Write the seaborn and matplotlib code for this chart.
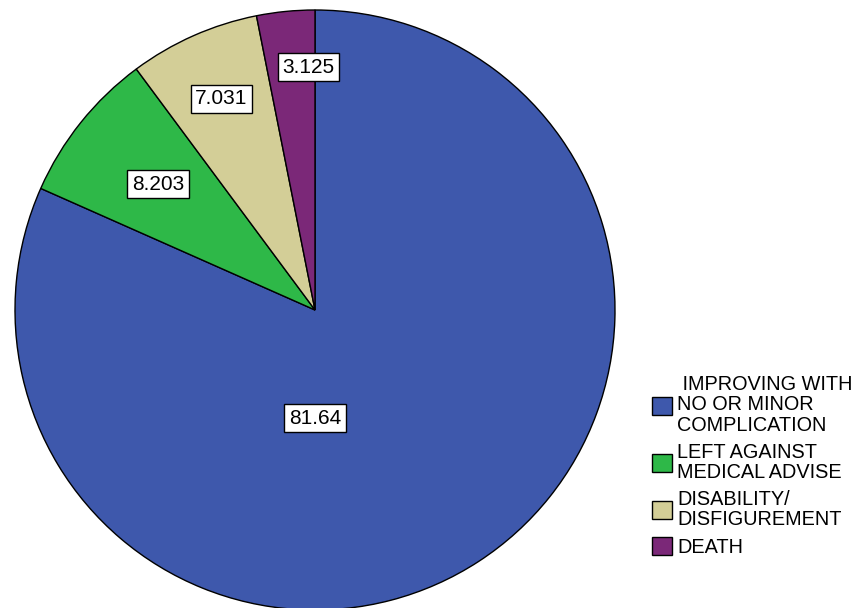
import numpy as np
import matplotlib
matplotlib.use("Agg")
import matplotlib.pyplot as plt
import seaborn as sns

categories = ["IMPROVING WITH\nNO OR MINOR\nCOMPLICATION",
              "LEFT AGAINST\nMEDICAL ADVISE",
              "DISABILITY/\nDISFIGUREMENT",
              "DEATH"]
values = [81.64, 8.203, 7.031, 3.125]
value_labels = ["81.64", "8.203", "7.031", "3.125"]
colors = ["#3E58AC", "#2EB848", "#D3CE97", "#7B2878"]

sns.set_theme(style="white")
plt.rcParams["font.family"] = ["Liberation Sans", "DejaVu Sans"]

fig = plt.figure(figsize=(8.55, 6.08), dpi=100)
ax = fig.add_axes([15/855, -2/608, 600/855, 600/608])
palette = sns.color_palette(colors)
wedges, _ = ax.pie(values, colors=palette, startangle=90, counterclock=False,
                   wedgeprops=dict(edgecolor="black", linewidth=1.0), radius=1.0)
ax.set_xlim(-1.0, 1.0)
ax.set_ylim(-1.0, 1.0)
ax.set_aspect("equal")
ax.axis("off")

# label placement: radial fraction per slice; first label sits straight below centre
radii = [0.36, 0.67, 0.77, 0.81]
for i, (w, lab) in enumerate(zip(wedges, value_labels)):
    ang = np.deg2rad((w.theta1 + w.theta2) / 2)
    if i == 0:
        ang = np.deg2rad(-90)
    if i == 3:
        ang = np.deg2rad(91.6)
    x, y = radii[i] * np.cos(ang), radii[i] * np.sin(ang)
    ax.text(x, y, lab, ha="center", va="center", fontsize=15, color="black",
            bbox=dict(boxstyle="square,pad=0.22", facecolor="white",
                      edgecolor="black", linewidth=1.0))

labels = list(categories)
labels[0] = " IMPROVING WITH\nNO OR MINOR\nCOMPLICATION"
leg = fig.legend(wedges, labels, loc="upper left", bbox_to_anchor=(652/855, 1 - 375/608),
                 frameon=False, fontsize=14.3, handlelength=1.03, handleheight=1.03,
                 handletextpad=0.25, labelspacing=0.38, borderpad=0.0,
                 borderaxespad=0.0, labelcolor="black")
for t in leg.get_texts():
    t.set_linespacing(1.1)

fig.savefig("out.png", dpi=100)
